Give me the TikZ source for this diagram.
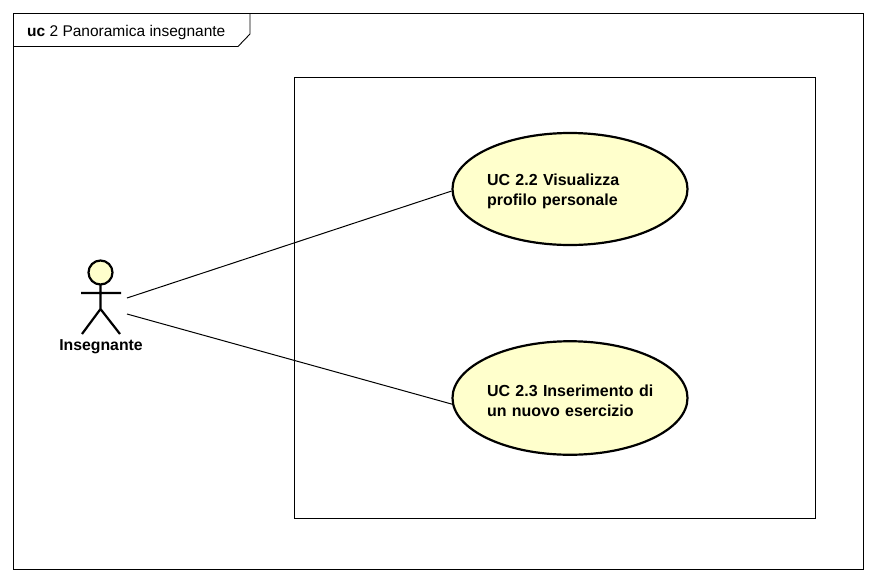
\documentclass[tikz,border=0pt]{standalone}
\usepackage{fontspec}
\setmainfont{Liberation Sans}
\usetikzlibrary{shapes.geometric}
\definecolor{ucfill}{HTML}{FFFFCC}
\newcommand{\ucstrut}{\rule{0pt}{17pt}}
\tikzset{
  frameline/.style={draw=black,line width=0.9pt},
  usecase/.style={shape=ellipse,draw=black,line width=2.2pt,fill=ucfill,minimum width=235pt,minimum height=112pt,inner sep=0pt,text width=166pt,align=left,font=\fontsize{16}{20}\selectfont\bfseries},
  actorline/.style={draw=black,line width=2.2pt},
  assoc/.style={draw=black,line width=1pt},
}
\begin{document}
\begin{tikzpicture}[x=1pt,y=-1pt]
\useasboundingbox (0,0) rectangle (876,582);
\fill[white] (0,0) rectangle (876,582);
\draw[frameline] (13.7,13.7) rectangle (863.3,569.6);
\draw[frameline] (13.7,46.5) -- (238,46.5) -- (250,34) -- (250,13.7);
\node[anchor=base west,inner sep=0pt,font=\fontsize{15.5}{18}\selectfont] (title) at (27,36) {\textbf{uc} 2 Panoramica insegnante};
\draw[frameline] (294.5,77.5) rectangle (815.5,518.5);
\node[usecase] (uc22) at (570,189) {\ucstrut UC 2.2 Visualizza\\profilo personale};
\node[usecase,minimum height=113.5pt] (uc23) at (570,398) {\ucstrut\mbox{UC 2.3 Inserimento di}\\un nuovo esercizio};
\draw[actorline,fill=ucfill] (100.5,272.5) circle (12);
\draw[actorline] (100.5,284.5) -- (100.5,309) (81,293) -- (121,293) (82,334) -- (100.5,309) -- (120,334);
\node[font=\fontsize{15.8}{18}\selectfont\bfseries,inner sep=0pt] (actor) at (101,347) {Insegnante};
\coordinate (actorUp) at (127,298);
\coordinate (actorDown) at (127,314);
\draw[assoc] (actorUp) -- (uc22.181.5);
\draw[assoc] (actorDown) -- (uc23.183);
\end{tikzpicture}
\end{document}
